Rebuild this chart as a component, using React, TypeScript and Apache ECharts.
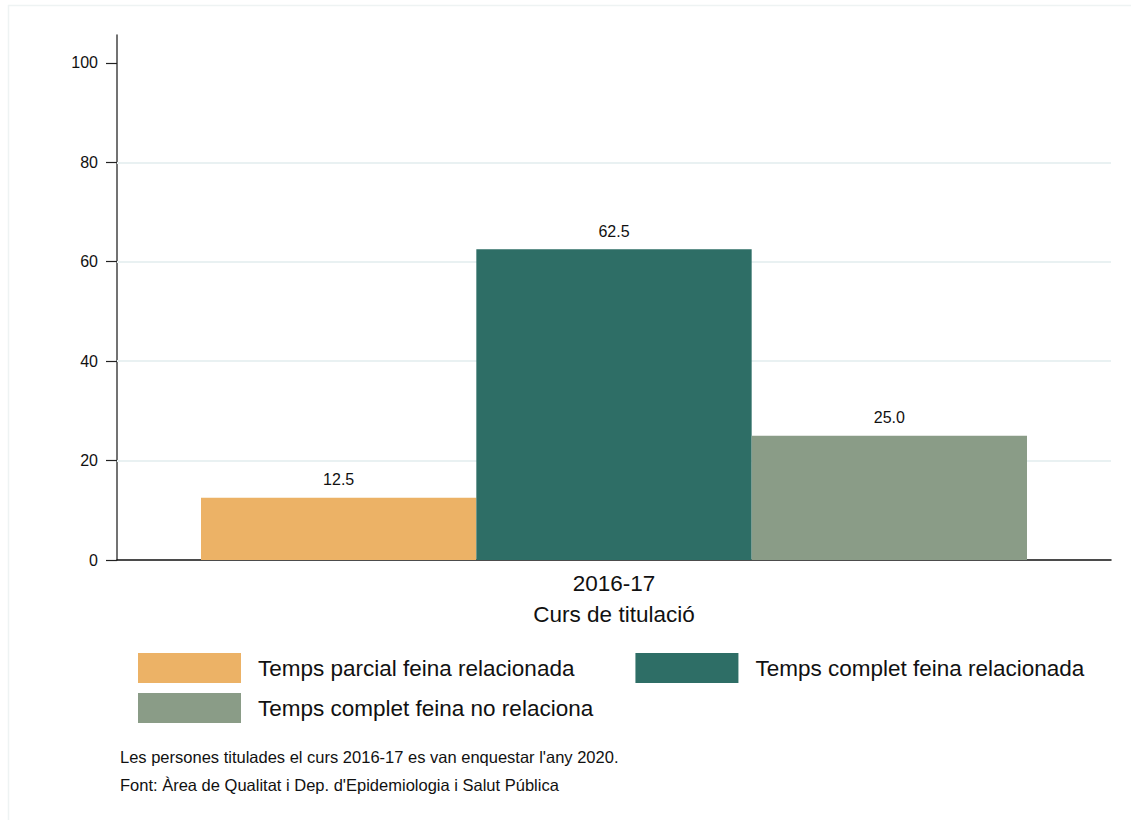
import React, { useEffect, useRef } from "react";
import * as echarts from "echarts";

const categories = ["2016-17"];
const seriesNames = [
  "Temps parcial feina relacionada",
  "Temps complet feina relacionada",
  "Temps complet feina no relaciona",
];
const seriesValues = [[12.5], [62.5], [25.0]];
const seriesColors = ["#ECB266", "#2E6E66", "#8A9C87"];
const yTicks = [0, 20, 40, 60, 80, 100];
const gridValues = [20, 40, 60, 80];
const xAxisName = "Curs de titulació";
const notes = [
  "Les persones titulades el curs 2016-17 es van enquestar l'any 2020.",
  "Font: Àrea de Qualitat i Dep. d'Epidemiologia i Salut Pública",
];

const FONT = 'Arial, "Liberation Sans", Helvetica, sans-serif';

export default function App() {
  const ref = useRef<HTMLDivElement>(null);

  useEffect(() => {
    document.body.style.margin = "0";
    if (!ref.current) return;
    const chart = echarts.init(ref.current, undefined, { renderer: "svg" });

    const series: any[] = seriesNames.map((name, i) => ({
      name,
      type: "bar",
      data: seriesValues[i],
      barWidth: "27.7%",
      barGap: "0%",
      itemStyle: { color: seriesColors[i] },
      label: {
        show: true,
        position: "top",
        distance: 10,
        formatter: (p: any) => Number(p.value).toFixed(1),
        color: "#111",
        fontSize: 16,
        fontFamily: FONT,
      },
      z: 3,
    }));
    series[0].markLine = {
      silent: true,
      symbol: "none",
      label: { show: false },
      lineStyle: { color: "#E9F1F2", width: 2, type: "solid" },
      data: gridValues.map((v) => ({ yAxis: v })),
      z: 1,
    };

    const legendText = { fontSize: 22.5, color: "#111", fontFamily: FONT, padding: [0, 0, 0, 12] };

    chart.setOption({
      animation: false,
      backgroundColor: "#ffffff",
      textStyle: { fontFamily: FONT },
      grid: { left: 117, right: 20, top: 35, bottom: 260, containLabel: false },
      xAxis: {
        type: "category",
        data: categories,
        name: xAxisName,
        nameLocation: "middle",
        nameGap: 43,
        nameTextStyle: { fontSize: 22.5, color: "#111", fontFamily: FONT },
        axisLine: { show: true, lineStyle: { color: "#111", width: 1.5 } },
        axisTick: { show: false },
        axisLabel: { fontSize: 22.5, color: "#111", margin: 12, fontFamily: FONT },
        splitLine: { show: false },
      },
      yAxis: {
        type: "value",
        min: 0,
        max: 105.6,
        interval: 20,
        axisLine: { show: true, lineStyle: { color: "#444", width: 1.5 } },
        axisTick: {
          show: true,
          length: 11,
          customValues: yTicks,
          lineStyle: { color: "#222", width: 1.2 },
        },
        axisLabel: {
          fontSize: 16,
          color: "#111",
          margin: 19,
          customValues: yTicks,
          fontFamily: FONT,
        },
        splitLine: { show: false },
      },
      legend: [
        {
          data: [seriesNames[0], seriesNames[1]],
          left: 138,
          top: 653,
          padding: 0,
          orient: "horizontal",
          itemWidth: 103,
          itemHeight: 30,
          itemGap: 61,
          icon: "rect",
          selectedMode: false,
          textStyle: legendText,
        },
        {
          data: [seriesNames[2]],
          left: 138,
          top: 693,
          padding: 0,
          orient: "horizontal",
          itemWidth: 103,
          itemHeight: 30,
          icon: "rect",
          selectedMode: false,
          textStyle: legendText,
        },
      ],
      graphic: [
        {
          type: "line",
          shape: { x1: 8, y1: 5.5, x2: 1131, y2: 5.5 },
          style: { stroke: "#EEF3F3", lineWidth: 1.5 },
          silent: true,
        },
        {
          type: "line",
          shape: { x1: 8.5, y1: 5, x2: 8.5, y2: 820 },
          style: { stroke: "#EEF3F3", lineWidth: 1.5 },
          silent: true,
        },
        ...notes.map((t, i) => ({
          type: "text",
          left: 120,
          top: 748 + i * 28,
          style: { text: t, fontSize: 16.5, fill: "#111", fontFamily: FONT },
          silent: true,
        })),
      ],
      series,
    });

    return () => chart.dispose();
  }, []);

  return <div ref={ref} style={{ width: 1131, height: 820 }} />;
}
